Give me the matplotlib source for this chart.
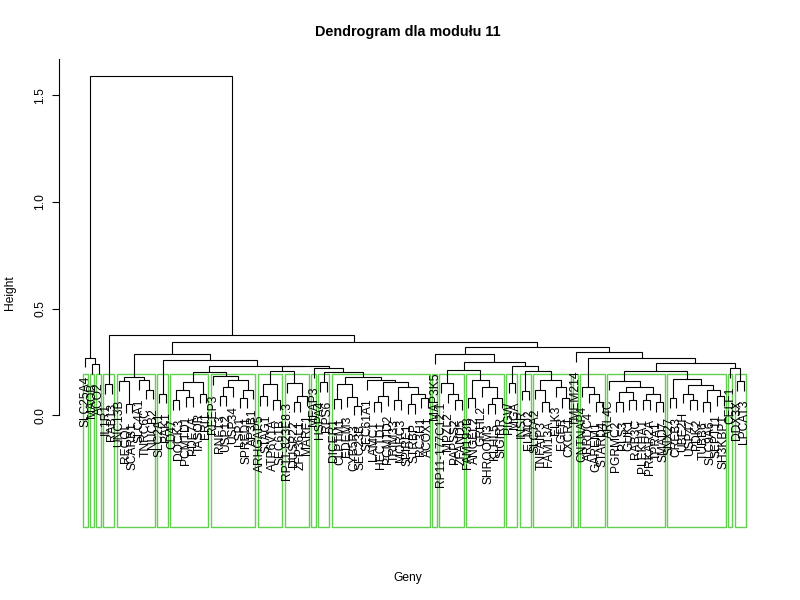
import matplotlib
matplotlib.use("Agg")
import matplotlib.pyplot as plt
from matplotlib.patches import Rectangle

plt.rcParams['font.family'] = ['Liberation Sans', 'DejaVu Sans']

# ---------------- data ----------------
genes = [
    "SLC25A4", "MAOB", "ACO2", "IL1R1", "RAB13",
    "UNC13B", "RECQL", "SCARB1", "SLC4A1", "TNRC6C", "NUCB2",
    "SLC2A1", "PAK1",
    "CD47", "DOCK3", "PCMTD1", "PDE7A", "TASOR", "ERI1",
    "REEP3", "RNF13", "USP12", "USP34", "LSP1", "SPRED1", "AP3B1",
    "ARHGAP5", "STAG1", "ATP6V1A", "SEC61B",
    "RP11-823E8.3", "DUSP22", "ZFP36L1", "MARF1",
    "MFAP3",
    "HSPA4", "RPS6",
    "DICER1", "CLPTM1", "EDEM3", "CYB5R3", "SEC23B", "SEC61A1", "LAMC1",
    "HECTD1", "PCMTD2", "TRIM33", "MORC3", "SPIRE1", "STRBP", "RC3H1", "ACOX1",
    "MAP3K5",
    "RP11-177C12.1", "MPZL2", "PAPSS2", "ZFAND5",
    "FAM193B", "ANGEL2", "GRHL2", "SHROOM3", "KLHL5", "SIGIRR",
    "PIGW", "MGA",
    "INSR", "ELMO2",
    "SLC7A2", "TNFAIP3", "FAM13A", "ELK3", "EGFR", "CXCR1",
    "TMEM214",
    "CNTNAP4", "ARRDC4", "GAREM1", "STARD4",
    "ARL4C", "PGRMC2", "PLS3", "GUK1", "RAB3C", "PLEKHA1", "PRKAR2A", "TPRA1", "SMAD7",
    "SNX27", "CREB3", "UBE2H", "USP47", "PDK2", "TUBB6", "SLC9A6", "SEPT11", "SH3KBP1",
    "CELF1",
    "DDX3X", "LPCAT3",
]

# within-cluster subtrees: (left,right)height ; integers index genes
c01 = "0"
c02 = "1"
c03 = "2"
c04 = "(3,4)0.146"
c05 = "((5,(6,7)0.053)0.159,(8,(9,10)0.12)0.163)0.177"
c06 = "(11,12)0.10"
c07 = "(((13,14)0.07,(15,16)0.085)0.12,(17,18)0.10)0.155"
c08 = "(19,(((20,21)0.09,22)0.13,((23,24)0.08,25)0.12)0.165)0.185"
c09 = "((26,27)0.09,(28,29)0.07)0.146"
c10 = "(30,((31,32)0.06,33)0.09)0.15"
c11 = "34"
c12 = "(35,36)0.154"
c13 = ("(((37,38)0.075,(39,(40,41)0.045)0.085)0.145,"
       "(42,(((43,44)0.06,45)0.09,((46,47)0.07,((48,49)0.05,(50,51)0.08)0.10)0.13)0.155)0.165)0.177")
c14 = "52"
c15 = "(53,(54,(55,56)0.07)0.10)0.151"
c16 = "((57,58)0.08,(59,((60,61)0.05,62)0.08)0.13)0.167"
c17 = "(63,64)0.15"
c18 = "(65,66)0.115"
c19 = "((67,(68,69)0.06)0.12,(70,(71,72)0.08)0.13)0.165"
c20 = "73"
c21 = "(74,(75,(76,77)0.06)0.10)0.13"
c22 = "(78,(((79,80)0.06,(81,82)0.07)0.11,((83,84)0.07,(85,86)0.06)0.10)0.134)0.162"
c23 = "((87,88)0.08,((89,(90,91)0.07)0.10,((92,93)0.06,(94,95)0.09)0.12)0.14)0.17"
c24 = "96"
c25 = "(97,98)0.16"

clusters = [c01, c02, c03, c04, c05, c06, c07, c08, c09, c10, c11, c12, c13,
            c14, c15, c16, c17, c18, c19, c20, c21, c22, c23, c24, c25]

# upper part of the tree (joins between clusters)
upper = {
    "Q": "((C22,C23)0.209,(C24,C25)0.22)0.245",
    "P": "(C21,Q)0.268",
    "M": "(C20,P)0.295",
    "N": "((C15,C16)0.212,(C17,(C18,C19)0.205)0.23)0.25",
    "L": "(C14,N)0.287",
    "F": "(L,M)0.318",
    "K": "(C11,(C12,C13)0.20)0.22",
    "I": "((C9,C10)0.205,K)0.229",
    "H": "((C7,C8)0.20,I)0.232",
    "G": "(C6,H)0.26",
    "E": "(C5,G)0.287",
    "D": "(E,F)0.345",
    "B": "(C4,D)0.376",
    "A": "(C1,(C2,C3)0.24)0.27",
    "ROOT": "(A,B)1.59",
}
n_clusters = 25
hang = 0.045

named = dict(upper)
for i, c in enumerate(clusters):
    named["C%d" % (i + 1)] = c


def parse(s, i=0):
    if s[i] == '(':
        left, i = parse(s, i + 1)
        assert s[i] == ','
        right, i = parse(s, i + 1)
        assert s[i] == ')'
        i += 1
        j = i
        while j < len(s) and (s[j].isdigit() or s[j] == '.'):
            j += 1
        return ('node', left, right, float(s[i:j])), j
    j = i
    while j < len(s) and (s[j].isalnum() or s[j] == '_'):
        j += 1
    tok = s[i:j]
    if tok.isdigit():
        return ('leaf', int(tok)), j
    return parse(named[tok], 0)[0], j


tree = parse(named["ROOT"])[0]

pos = {}
merges = []      # (xl, yl_bottom, xr, yr_bottom, h)
leaf_ends = {}
heights = []


def walk(node):
    if node[0] == 'leaf':
        p = len(pos) + 1
        pos[node[1]] = p
        return p, None, node[1]
    xl, hl, il = walk(node[1])
    xr, hr, ir = walk(node[2])
    h = node[3]
    heights.append(h)
    if hl is None:
        yl = h - hang
        leaf_ends[il] = yl
    else:
        yl = hl
    if hr is None:
        yr = h - hang
        leaf_ends[ir] = yr
    else:
        yr = hr
    merges.append((xl, yl, xr, yr, h))
    return (xl + xr) / 2.0, h, None


walk(tree)
n = len(genes)

# ---------------- figure ----------------
fig = plt.figure(figsize=(8, 6), dpi=100)
ax = fig.add_axes([59 / 800, 73 / 600, 711 / 800, 468 / 600])
ax.set_xlim(1 - 0.04 * (n - 1), n + 0.04 * (n - 1))
ylo, yhi = -0.525, 1.671
ax.set_ylim(ylo, yhi)

for xl, yl, xr, yr, h in merges:
    ax.plot([xl, xl, xr, xr], [yl, h, h, yr], color='black', lw=0.8,
            solid_joinstyle='miter', solid_capstyle='butt')

for gi, name in enumerate(genes):
    ax.text(pos[gi], leaf_ends[gi] - 0.042, name, rotation=90, ha='center',
            va='top', fontsize=8.64, color='black')

# rectangles like rect.hclust(k=25)
hs = sorted(heights, reverse=True)
cut = (hs[n_clusters - 2] + hs[n_clusters - 1]) / 2.0
for c in clusters:
    sub = parse(c)[0]
    leaves = []

    def collect(nd):
        if nd[0] == 'leaf':
            leaves.append(pos[nd[1]])
        else:
            collect(nd[1]); collect(nd[2])
    collect(sub)
    x0 = min(leaves) - 0.34
    x1 = max(leaves) + 0.33
    ax.add_patch(Rectangle((x0, ylo), x1 - x0, cut - ylo, fill=False,
                           edgecolor='#61D04F', lw=1.0, clip_on=False))

for s in ['top', 'right', 'bottom']:
    ax.spines[s].set_visible(False)
ax.spines['left'].set_bounds(0, yhi)
ax.spines['left'].set_linewidth(0.8)
ax.set_xticks([])
ax.set_yticks([0.0, 0.5, 1.0, 1.5])
ax.set_yticklabels(["0.0", "0.5", "1.0", "1.5"])
ax.tick_params(axis='y', length=5, width=0.8, pad=4, labelsize=8.64)
for t in ax.get_yticklabels():
    t.set_rotation(90)
    t.set_va('center')

fig.text(408 / 800, 1 - 32 / 600, "Dendrogram dla modułu 11", ha='center',
         va='center', fontsize=10.4, fontweight='bold')
fig.text(408 / 800, 1 - 578 / 600, "Geny", ha='center', va='center', fontsize=8.64)
fig.text(10 / 800, 1 - 293 / 600, "Height", ha='center', va='center',
         rotation=90, fontsize=8.64)

fig.savefig("out.png", dpi=100)
